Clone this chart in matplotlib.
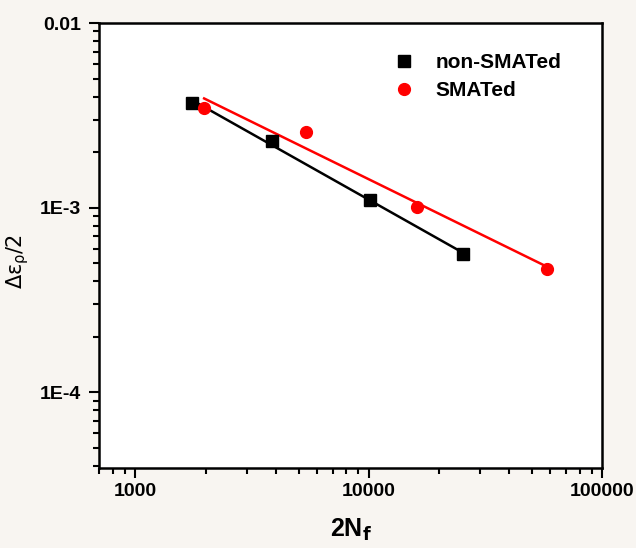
import numpy as np
import matplotlib
matplotlib.use("Agg")
import matplotlib.pyplot as plt
from matplotlib.ticker import LogLocator, NullFormatter

plt.rcParams['font.family'] = ['Liberation Sans', 'DejaVu Sans']

# Data
non_x = [1740, 3850, 10100, 25300]
non_y = [3.68e-3, 2.31e-3, 1.10e-3, 5.6e-4]
sm_x = [1970, 5400, 16100, 58000]
sm_y = [3.45e-3, 2.56e-3, 1.01e-3, 4.65e-4]
labels = ["non-SMATed", "SMATed"]
ytick_vals = [1e-4, 1e-3, 1e-2]
ytick_labels = ["1E-4", "1E-3", "0.01"]
xtick_vals = [1000, 10000, 100000]
xtick_labels = ["1000", "10000", "100000"]

fig = plt.figure(figsize=(6.36, 5.48), dpi=100, facecolor='#f8f5f1')
ax = fig.add_axes([0.156, 0.146, 0.791, 0.812])
ax.set_facecolor('white')

ax.set_xscale('log')
ax.set_yscale('log')

def fit_line(x, y):
    lx, ly = np.log10(x), np.log10(y)
    p = np.polyfit(lx, ly, 1)
    xs = np.array([min(x), max(x)])
    return xs, 10 ** np.polyval(p, np.log10(xs))

fx, fy = fit_line(non_x, non_y)
ax.plot(fx, fy, color='black', lw=1.8, zorder=2)
fx, fy = fit_line(sm_x, sm_y)
ax.plot(fx, fy, color='#ff0000', lw=1.8, zorder=2)

ax.plot(non_x, non_y, 's', color='black', ms=8, ls='none', label=labels[0], zorder=3)
ax.plot(sm_x, sm_y, 'o', color='#ff0000', ms=8.5, ls='none', label=labels[1], zorder=3)

ax.set_xlim(700, 100000)
ax.set_ylim(3.9e-5, 1e-2)

ax.set_xticks(xtick_vals)
ax.set_xticklabels(xtick_labels)
ax.set_yticks(ytick_vals)
ax.set_yticklabels(ytick_labels)
ax.xaxis.set_minor_locator(LogLocator(base=10, subs=np.arange(2, 10)))
ax.yaxis.set_minor_locator(LogLocator(base=10, subs=np.arange(2, 10)))
ax.xaxis.set_minor_formatter(NullFormatter())
ax.yaxis.set_minor_formatter(NullFormatter())

for lab in ax.get_yticklabels():
    lab.set_fontweight('bold')
    lab.set_fontsize(14)
for lab in ax.get_xticklabels():
    lab.set_fontweight('bold')
    lab.set_fontsize(14)

ax.tick_params(which='major', length=7, width=1.5, direction='out')
ax.tick_params(axis='y', which='major', pad=6)
ax.tick_params(axis='x', which='major', pad=4)
ax.tick_params(which='minor', length=4, width=1.5, direction='out')
ax.tick_params(top=False, right=False)
for sp in ax.spines.values():
    sp.set_linewidth(1.8)

ax.set_xlabel(r'2N$_\mathbf{f}$', fontsize=18, fontweight='bold', labelpad=12)
ax.set_ylabel(r'$\mathregular{\Delta\varepsilon_\rho/2}$', fontsize=15,
              family=['DejaVu Sans'])
ax.yaxis.set_label_coords(-0.136, 0.463)

leg = ax.legend(loc='upper right', bbox_to_anchor=(0.956, 0.975), frameon=False,
                prop={'weight': 'bold', 'size': 15}, handletextpad=1.0,
                labelspacing=0.45, handlelength=1.0)

fig.savefig('out.png', dpi=100, facecolor=fig.get_facecolor())
